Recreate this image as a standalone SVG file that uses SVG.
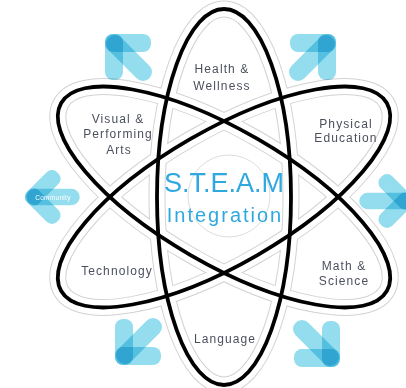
<svg xmlns="http://www.w3.org/2000/svg" width="406" height="388" viewBox="0 0 406 388">
<defs>
<style>
.halo{fill:none;stroke:#d2d2d2;stroke-width:17}
.band{fill:none;stroke:#ffffff;stroke-width:15}
.orbit{fill:none;stroke:#000000;stroke-width:3.8}
.bar{fill:#93ddef;mix-blend-mode:multiply}
.shaft{fill:none;stroke:#93ddef;stroke-width:18;stroke-linecap:round;mix-blend-mode:multiply}
.lbl{font-family:"Liberation Sans",Arial,sans-serif;font-size:12px;fill:#4b505e;text-anchor:middle;letter-spacing:1.1px}
.big{font-family:"Liberation Sans",Arial,sans-serif;fill:#2ea8df;text-anchor:middle}
</style>
<g id="arrowShape">
<rect class="bar" x="0" y="0" width="46" height="18" rx="8"/>
<rect class="bar" x="0" y="0" width="18" height="46" rx="8"/>
<line class="shaft" x1="10" y1="10" x2="38" y2="38"/>
</g>
</defs>
<rect width="406" height="388" fill="#ffffff"/>
<g id="connectors">
<ellipse class="halo" cx="224" cy="197" rx="67" ry="188"/>
<ellipse class="halo" cx="224" cy="197" rx="67" ry="188" transform="rotate(60 224 197)"/>
<ellipse class="halo" cx="224" cy="197" rx="67" ry="188" transform="rotate(-60 224 197)"/>
<ellipse class="band" cx="224" cy="197" rx="67" ry="188"/>
<ellipse class="band" cx="224" cy="197" rx="67" ry="188" transform="rotate(60 224 197)"/>
<ellipse class="band" cx="224" cy="197" rx="67" ry="188" transform="rotate(-60 224 197)"/>
<circle cx="229" cy="196" r="41" fill="none" stroke="#d4d4d4" stroke-width="0.8"/>
<ellipse class="orbit" cx="224" cy="197" rx="67" ry="188"/>
<ellipse class="orbit" cx="224" cy="197" rx="67" ry="188" transform="rotate(60 224 197)"/>
<ellipse class="orbit" cx="224" cy="197" rx="67" ry="188" transform="rotate(-60 224 197)"/>
</g>
<g id="arrow-nw"><use href="#arrowShape" transform="translate(105 34)"/></g>
<g id="arrow-ne"><use href="#arrowShape" transform="translate(336 34) scale(-1 1)"/></g>
<g id="arrow-sw"><use href="#arrowShape" transform="translate(115 365) scale(1 -1)"/></g>
<g id="arrow-se"><use href="#arrowShape" transform="translate(340 367) scale(-1 -1)"/></g>
<g id="arrow-e"><use href="#arrowShape" transform="translate(417 201) rotate(135) scale(0.92)"/></g>
<g id="arrow-w"><use href="#arrowShape" transform="translate(22 197) rotate(-45) scale(0.92)"/>
<text x="53" y="199.5" font-family="Liberation Sans, Arial, sans-serif" font-size="6.5" fill="#ffffff" text-anchor="middle" letter-spacing="0.3">Community</text></g>
<g id="center"><text class="big" x="224" y="192" font-size="27">S.T.E.A.M</text>
<text class="big" x="225" y="222" font-size="20" letter-spacing="2">Integration</text></g>
<g id="health"><text class="lbl" x="222" y="73">Health &amp;</text><text class="lbl" x="222" y="90">Wellness</text></g>
<g id="visual"><text class="lbl" x="118" y="123">Visual &amp;</text><text class="lbl" x="118" y="138">Performing</text><text class="lbl" x="119" y="154">Arts</text></g>
<g id="physical"><text class="lbl" x="346" y="128">Physical</text><text class="lbl" x="346" y="142">Education</text></g>
<g id="technology"><text class="lbl" x="117" y="275">Technology</text></g>
<g id="math"><text class="lbl" x="344" y="270">Math &amp;</text><text class="lbl" x="344" y="285">Science</text></g>
<g id="language"><text class="lbl" x="225" y="343">Language</text></g>
</svg>
